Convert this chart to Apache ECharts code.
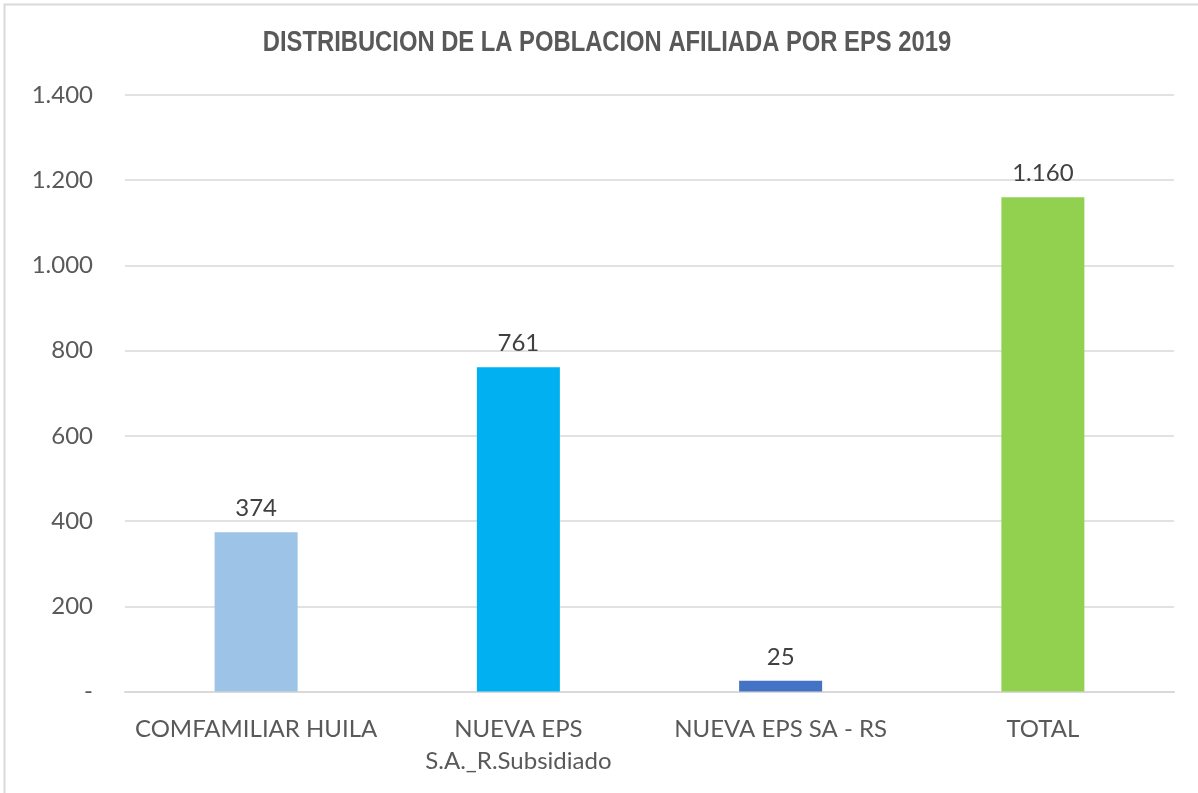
<!DOCTYPE html>
<html><head><meta charset="utf-8">
<script src="https://cdn.jsdelivr.net/npm/echarts@6/dist/echarts.min.js"></script>
<style>html,body{margin:0;padding:0;background:#fff}#c{width:1198px;height:793px}</style>
</head><body><div id="c"></div>
<script>
const titleText = 'DISTRIBUCION DE LA POBLACION AFILIADA POR EPS 2019';
const categories = ['COMFAMILIAR HUILA', 'NUEVA EPS\nS.A._R.Subsidiado', 'NUEVA EPS SA - RS', 'TOTAL'];
const values = [374, 761, 25, 1160];
const barColors = ['#9DC3E6', '#00B0F0', '#4472C4', '#92D050'];

function fmt(v){
  if (v === 0) return '-';
  return String(v).replace(/\B(?=(\d{3})+(?!\d))/g, '.');
}
const chart = echarts.init(document.getElementById('c'));
chart.setOption({
  animation:false,
  graphic:[
    {type:'rect', shape:{x:4.5,y:4.5,width:1200,height:800}, style:{fill:'none', stroke:'#d9d9d9', lineWidth:2}, silent:true},
    {type:'text', x:607, y:43, scaleX:0.82, silent:true,
     style:{text:titleText, fontFamily:'"Liberation Sans", Arial, sans-serif', fontWeight:'bold', fontSize:29, fill:'#595959', align:'center', verticalAlign:'middle'}}
  ],
  grid:{left:125, right:24, top:95, bottom:101.5, containLabel:false},
  xAxis:{type:'category', data:categories,
    axisLine:{lineStyle:{color:'#d9d9d9', width:2}}, axisTick:{show:false},
    axisLabel:{fontFamily:'Lato, "Open Sans", sans-serif', fontSize:24, color:'#595959', margin:21.5, lineHeight:32, interval:0}},
  yAxis:{type:'value', min:0, max:1400, interval:200,
    axisLine:{show:false}, axisTick:{show:false},
    splitLine:{lineStyle:{color:'#d9d9d9', width:1.5}},
    axisLabel:{fontFamily:'Lato, "Open Sans", sans-serif', fontSize:24, color:'#595959', margin:32, formatter:fmt}},
  series:[{type:'bar', barWidth:83,
    data: values.map((v,i)=>({value:v, itemStyle:{color:barColors[i]}})),
    label:{show:true, position:'top', distance:12, fontFamily:'Lato, "Open Sans", sans-serif', fontSize:24, color:'#404040', formatter:p=>fmt(p.value)}}]
});
</script></body></html>
